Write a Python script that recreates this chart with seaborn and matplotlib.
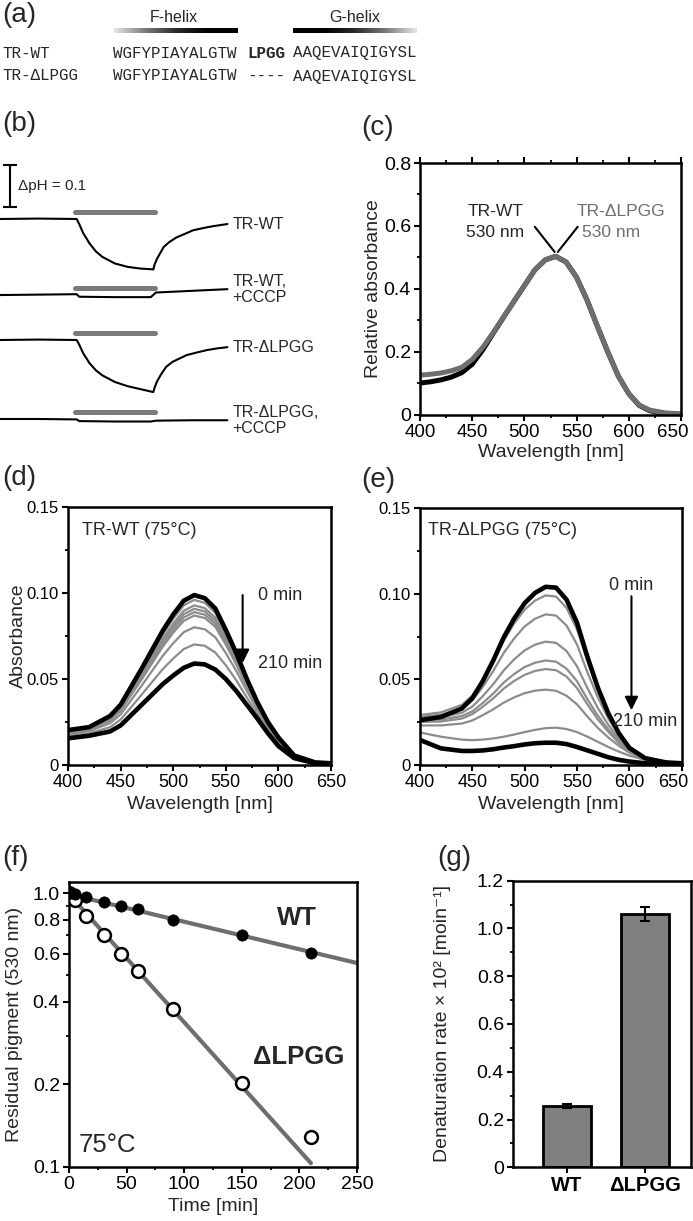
import numpy as np
import pandas as pd
import matplotlib
matplotlib.use("Agg")
import matplotlib.pyplot as plt
import matplotlib.transforms as mtrans
import seaborn as sns
from matplotlib.ticker import MultipleLocator, FixedLocator, NullFormatter
from matplotlib.colors import LinearSegmentedColormap

# ---------------- data ----------------
# (a) sequences
seq_names = ["TR-WT", "TR-ΔLPGG"]
seq_f = "WGFYPIAYALGTW"
seq_loop = ["LPGG", "----"]
seq_g = "AAQEVAIQIGYSL"

# (b) pH traces (time in s, ΔpH relative to start)
light_on_off = [59, 121]
wt_t = [0, 30, 60, 62, 65, 70, 75, 80, 90, 100, 110, 120, 121, 123, 126, 128, 132, 138, 145, 151, 160, 167, 178]
wt_ph = [0, 0.001, 0, -0.012, -0.033, -0.058, -0.077, -0.090, -0.106, -0.114, -0.118, -0.120, -0.108,
         -0.094, -0.078, -0.067, -0.056, -0.044, -0.035, -0.027, -0.021, -0.017, -0.012]
dl_t = [0, 30, 60, 62, 65, 70, 75, 80, 90, 100, 110, 120, 121, 123, 126, 130, 135, 146, 155, 162, 170, 178]
dl_ph = [0, 0.001, 0, -0.011, -0.031, -0.055, -0.072, -0.084, -0.100, -0.110, -0.117, -0.124, -0.113,
         -0.098, -0.082, -0.064, -0.052, -0.036, -0.029, -0.024, -0.020, -0.017]
cccp_t = [0, 30, 60, 62, 90, 118, 122, 150, 178]
wt_cccp_ph = [0, 0.001, 0.002, -0.004, -0.005, -0.005, 0.006, 0.010, 0.014]
dl_cccp_ph = [0, 0.0, -0.001, -0.005, -0.006, -0.006, -0.004, -0.003, -0.003]
trace_labels = ["TR-WT", "TR-WT,\n+CCCP", "TR-ΔLPGG", "TR-ΔLPGG,\n+CCCP"]

# (c) relative absorbance spectra
c_wl = [400, 410, 420, 430, 440, 450, 460, 470, 480, 490, 500, 510, 520, 530, 540, 550, 560, 570, 580,
        590, 600, 610, 620, 635, 650]
c_wt = [0.100, 0.104, 0.110, 0.119, 0.133, 0.160, 0.205, 0.258, 0.309, 0.360, 0.410, 0.460, 0.492, 0.503,
        0.485, 0.436, 0.364, 0.280, 0.198, 0.122, 0.066, 0.029, 0.012, 0.003, 0.001]
c_dl = [0.125, 0.128, 0.132, 0.139, 0.150, 0.175, 0.213, 0.260, 0.310, 0.360, 0.410, 0.460, 0.492, 0.503,
        0.485, 0.436, 0.364, 0.280, 0.198, 0.122, 0.066, 0.030, 0.014, 0.005, 0.002]

# (d)/(e) spectra during heating at 75 °C (0 min, intermediate, 210 min)
wl = [400, 420, 440, 450, 460, 470, 480, 490, 500, 510, 520, 530, 540, 550, 560, 570, 580, 590, 600,
      615, 635, 650]
d_first = [0.0203, 0.022, 0.0285, 0.035, 0.0455, 0.056, 0.067, 0.078, 0.0875, 0.0955, 0.0988, 0.097,
           0.091, 0.0785, 0.065, 0.050, 0.0365, 0.025, 0.016, 0.0055, 0.0015, 0.001]
d_last = [0.0155, 0.017, 0.0195, 0.023, 0.029, 0.035, 0.041, 0.047, 0.052, 0.0565, 0.059, 0.0585,
          0.0555, 0.050, 0.043, 0.035, 0.027, 0.0185, 0.011, 0.004, 0.001, 0.0]
d_mid = [
    [0.0200, 0.0217, 0.0279, 0.0342, 0.0443, 0.0545, 0.0652, 0.0758, 0.0850, 0.0928, 0.0960, 0.0943,
     0.0885, 0.0765, 0.0635, 0.0490, 0.0358, 0.0245, 0.0157, 0.0054, 0.0015, 0.0009],
    [0.0196, 0.0213, 0.0272, 0.0332, 0.0430, 0.0529, 0.0631, 0.0734, 0.0822, 0.0897, 0.0928, 0.0912,
     0.0857, 0.0742, 0.0617, 0.0478, 0.0351, 0.0240, 0.0153, 0.0053, 0.0014, 0.0009],
    [0.0193, 0.0210, 0.0267, 0.0326, 0.0422, 0.0518, 0.0618, 0.0718, 0.0804, 0.0877, 0.0908, 0.0893,
     0.0839, 0.0728, 0.0606, 0.0470, 0.0346, 0.0237, 0.0150, 0.0052, 0.0014, 0.0008],
    [0.0191, 0.0208, 0.0263, 0.0320, 0.0414, 0.0508, 0.0605, 0.0703, 0.0786, 0.0858, 0.0889, 0.0874,
     0.0821, 0.0714, 0.0595, 0.0463, 0.0341, 0.0234, 0.0148, 0.0051, 0.0014, 0.0008],
    [0.0189, 0.0205, 0.0258, 0.0314, 0.0406, 0.0497, 0.0592, 0.0687, 0.0769, 0.0838, 0.0869, 0.0855,
     0.0804, 0.0700, 0.0584, 0.0455, 0.0337, 0.0230, 0.0145, 0.0051, 0.0014, 0.0007],
    [0.0180, 0.0197, 0.0243, 0.0294, 0.0377, 0.0461, 0.0548, 0.0634, 0.0708, 0.0772, 0.0801, 0.0789,
     0.0743, 0.0651, 0.0547, 0.0430, 0.0320, 0.0219, 0.0137, 0.0048, 0.0013, 0.0005],
    [0.0168, 0.0184, 0.0220, 0.0264, 0.0336, 0.0409, 0.0483, 0.0557, 0.0619, 0.0674, 0.0701, 0.0693,
     0.0654, 0.0580, 0.0492, 0.0392, 0.0297, 0.0203, 0.0124, 0.0044, 0.0011, 0.0003],
]
e_first = [0.0262, 0.028, 0.033, 0.039, 0.049, 0.061, 0.0745, 0.0855, 0.0945, 0.1005, 0.104, 0.1035,
           0.0965, 0.083, 0.063, 0.045, 0.030, 0.0185, 0.010, 0.004, 0.0015, 0.001]
e_last = [0.0146, 0.0097, 0.0082, 0.0082, 0.0085, 0.0092, 0.0102, 0.011, 0.012, 0.0127, 0.013, 0.013,
          0.0122, 0.0105, 0.0085, 0.0065, 0.0045, 0.003, 0.002, 0.001, 0.0005, 0.0]
e_mid = [
    [0.0292, 0.0307, 0.0351, 0.0405, 0.0495, 0.0604, 0.0726, 0.0826, 0.0907, 0.0960, 0.0990, 0.0983,
     0.0917, 0.0791, 0.0605, 0.0438, 0.0298, 0.0187, 0.0106, 0.0045, 0.0017, 0.0011],
    [0.0282, 0.0293, 0.0330, 0.0377, 0.0456, 0.0549, 0.0654, 0.0739, 0.0809, 0.0854, 0.0879, 0.0872,
     0.0814, 0.0703, 0.0540, 0.0393, 0.0270, 0.0173, 0.0099, 0.0043, 0.0016, 0.0011],
    [0.0271, 0.0279, 0.0305, 0.0341, 0.0402, 0.0472, 0.0552, 0.0617, 0.0669, 0.0703, 0.0720, 0.0713,
     0.0665, 0.0576, 0.0448, 0.0331, 0.0233, 0.0152, 0.0092, 0.0042, 0.0016, 0.0010],
    [0.0261, 0.0265, 0.0286, 0.0313, 0.0362, 0.0417, 0.0481, 0.0531, 0.0572, 0.0597, 0.0610, 0.0603,
     0.0562, 0.0489, 0.0383, 0.0287, 0.0206, 0.0138, 0.0085, 0.0040, 0.0015, 0.0010],
    [0.0251, 0.0254, 0.0271, 0.0297, 0.0340, 0.0389, 0.0446, 0.0491, 0.0526, 0.0549, 0.0560, 0.0553,
     0.0516, 0.0449, 0.0353, 0.0265, 0.0193, 0.0129, 0.0081, 0.0038, 0.0014, 0.0010],
    [0.0231, 0.0231, 0.0242, 0.0260, 0.0291, 0.0325, 0.0364, 0.0395, 0.0419, 0.0434, 0.0440, 0.0433,
     0.0404, 0.0354, 0.0282, 0.0216, 0.0160, 0.0112, 0.0072, 0.0035, 0.0013, 0.0009],
    [0.0190, 0.0165, 0.0148, 0.0145, 0.0148, 0.0155, 0.0165, 0.0178, 0.0192, 0.0205, 0.0215, 0.0218,
     0.0210, 0.0192, 0.0165, 0.0135, 0.0105, 0.0078, 0.0055, 0.0030, 0.0012, 0.0005],
]

# (f) residual pigment
f_t_wt = [0, 2, 5, 15, 30, 45, 60, 90, 150, 210]
f_wt = [1.0, 1.0, 0.99, 0.967, 0.924, 0.899, 0.874, 0.799, 0.704, 0.603]
f_t_dl = [0, 5, 15, 30, 45, 60, 90, 150, 210]
f_dl = [1.0, 0.945, 0.821, 0.70, 0.598, 0.517, 0.377, 0.202, 0.128]
fit_t_wt = [0, 250]
fit_wt = [0.99, 0.555]
fit_t_dl = [0, 210]
fit_dl = [0.99, 0.103]

# (g) denaturation rates
g_cats = ["WT", "ΔLPGG"]
g_rate = [0.255, 1.06]
g_err = [0.008, 0.03]

# ---------------- style ----------------
sns.set_theme(style="ticks")
plt.rcParams['font.family'] = ['Liberation Sans', 'DejaVu Sans']
plt.rcParams.update({
    'axes.linewidth': 1.8,
    'xtick.major.width': 1.5, 'ytick.major.width': 1.5,
    'xtick.minor.width': 1.3, 'ytick.minor.width': 1.3,
    'xtick.major.size': 4.5, 'ytick.major.size': 4.5,
    'xtick.minor.size': 2.5, 'ytick.minor.size': 2.5,
    'xtick.labelsize': 13.5, 'ytick.labelsize': 14,
    'axes.labelsize': 14,
    'xtick.color': 'black', 'ytick.color': 'black',
    'axes.edgecolor': 'black',
    'xtick.direction': 'out', 'ytick.direction': 'out',
    'xtick.major.pad': 2.0, 'ytick.major.pad': 2.0,
})

W, H = 693, 1221
fig = plt.figure(figsize=(6.93, 12.21), dpi=100)
fig.patch.set_facecolor('white')

def fax(x0, y0, x1, y1):
    return fig.add_axes([x0 / W, 1 - y1 / H, (x1 - x0) / W, (y1 - y0) / H])

# overlay axes in pixel coordinates for panel labels & panel (a)
ov = fig.add_axes([0, 0, 1, 1])
ov.set_xlim(0, W)
ov.set_ylim(H, 0)
ov.axis('off')

GRAY = '#7a7a7a'

# ---- panel (a)
mono = ['Liberation Mono', 'DejaVu Sans Mono']
grad = np.linspace(0, 1, 256).reshape(1, -1)
cmap_f = LinearSegmentedColormap.from_list('f', ['#e6e6e6', '#7a7a7a', '#2a2a2a', '#000000', '#000000'])
ov.imshow(grad, extent=(114, 238, 33, 28.5), aspect='auto', cmap=cmap_f, zorder=1)
ov.imshow(grad[:, ::-1], extent=(293, 417, 33, 28.5), aspect='auto', cmap=cmap_f, zorder=1)
ov.set_xlim(0, W)
ov.set_ylim(H, 0)
ov.text(174, 18, "F-helix", ha='center', va='center', fontsize=11.5)
ov.text(355, 18, "G-helix", ha='center', va='center', fontsize=11.5)
for i, (nm, lp) in enumerate(zip(seq_names, seq_loop)):
    yy = 53 + i * 23
    ov.text(2, yy, nm, ha='left', va='center', fontsize=11.4, family=mono)
    ov.text(113, yy, seq_f, ha='left', va='center', fontsize=11.4, family=mono)
    ov.text(247, yy, lp, ha='left', va='center', fontsize=11.4, family=mono,
            fontweight='bold' if i == 0 else 'normal')
    ov.text(293, yy, seq_g, ha='left', va='center', fontsize=11.4, family=mono)

for lab, x, y in [("(a)", 2, 15), ("(b)", 2, 124), ("(c)", 361, 128), ("(d)", 2, 478),
                  ("(e)", 361, 480), ("(f)", 2, 858), ("(g)", 437, 858)]:
    ov.text(x, y, lab, ha='left', va='center', fontsize=20)

# ---- panel (b)
bx = fax(0, 140, 340, 440)
bx.set_xlim(0, 180 * 340 / 230)
bx.set_ylim(-0.526, 0.188)
bx.axis('off')
offsets = [0.0, -0.181, -0.288, -0.476]
traces = [(wt_t, wt_ph), (cccp_t, wt_cccp_ph), (dl_t, dl_ph), (cccp_t, dl_cccp_ph)]
for off, (tt, ph), lab in zip(offsets, traces, trace_labels):
    sns.lineplot(x=tt, y=np.array(ph) + off, ax=bx, color='black', lw=1.5, sort=False)
    bx.plot(light_on_off, [off + 0.016] * 2, color=GRAY, lw=3.6, solid_capstyle='round')
    bx.text(182, off + ph[-1], lab, ha='left', va='center', fontsize=11.5, linespacing=1.1)
bx.errorbar([7.8], [0.079], yerr=[0.05], fmt='none', ecolor='black', elinewidth=1.5, capsize=5, capthick=1.5)
bx.text(14, 0.079, "ΔpH = 0.1", ha='left', va='center', fontsize=11)

def style_spec(ax):
    ax.set_xlim(400, 650)
    ax.xaxis.set_major_locator(FixedLocator([400, 450, 500, 550, 600, 650]))
    ax.xaxis.set_minor_locator(FixedLocator([425, 475, 525, 575, 625]))
    ax.tick_params(which='both', top=False, right=False)

# ---- panel (c)
cx = fax(420, 163, 681, 414.5)
sns.lineplot(x=c_wl, y=c_wt, ax=cx, color='black', lw=3.6)
sns.lineplot(x=c_wl, y=c_dl, ax=cx, color='#6e6e6e', lw=3.6)
style_spec(cx)
cx.set_ylim(0, 0.8)
cx.yaxis.set_major_locator(FixedLocator([0, 0.2, 0.4, 0.6, 0.8]))
cx.set_yticklabels(["0", "0.2", "0.4", "0.6", "0.8"])
cx.yaxis.set_minor_locator(MultipleLocator(0.1))
cx.tick_params(which='both', top=True)
cx.set_xlabel("Wavelength [nm]")
cx.set_ylabel("Relative absorbance")
cx.plot([510, 529], [0.597, 0.517], color='black', lw=1.5)
cx.plot([551, 532], [0.597, 0.517], color='black', lw=1.5)
cx.text(472, 0.645, "TR-WT", ha='center', va='center', fontsize=12.5)
cx.text(472, 0.578, "530 nm", ha='center', va='center', fontsize=12.5)
cx.text(592, 0.645, "TR-ΔLPGG", ha='center', va='center', fontsize=12.5, color='#6e6e6e')
cx.text(583, 0.578, "530 nm", ha='center', va='center', fontsize=12.5, color='#6e6e6e')

# ---- panels (d), (e)
def spec_panel(ax, first, mids, last):
    for m in mids:
        sns.lineplot(x=wl, y=m, ax=ax, color='#8c8c8c', lw=1.6)
    sns.lineplot(x=wl, y=first, ax=ax, color='black', lw=3.3)
    sns.lineplot(x=wl, y=last, ax=ax, color='black', lw=3.3)
    style_spec(ax)
    ax.set_ylim(0, 0.15)
    ax.yaxis.set_major_locator(FixedLocator([0, 0.05, 0.10, 0.15]))
    ax.set_yticklabels(["0", "0.05", "0.10", "0.15"])
    ax.yaxis.set_minor_locator(FixedLocator([0.025, 0.075, 0.125]))
    ax.tick_params(axis='y', labelsize=12)
    ax.tick_params(axis='x', labelsize=13)
    ax.set_xlabel("Wavelength [nm]")

dx = fax(68, 507, 331, 765)
spec_panel(dx, d_first, d_mid, d_last)
dx.set_ylabel("Absorbance")
dx.text(413, 0.1366, "TR-WT (75°C)", ha='left', va='center', fontsize=13)
dx.annotate('', xy=(566, 0.0593), xytext=(566, 0.0988),
            arrowprops=dict(arrowstyle='-|>', color='black', lw=1.5, mutation_scale=20, shrinkA=0, shrinkB=0))
dx.text(581, 0.0988, "0 min", ha='left', va='center', fontsize=13)
dx.text(581, 0.0593, "210 min", ha='left', va='center', fontsize=13)

ex = fax(420, 508, 681.7, 765)
spec_panel(ex, e_first, e_mid, e_last)
ex.set_ylabel("")
ex.text(408, 0.137, "TR-ΔLPGG (75°C)", ha='left', va='center', fontsize=13)
ex.annotate('', xy=(602, 0.032), xytext=(602, 0.0985),
            arrowprops=dict(arrowstyle='-|>', color='black', lw=1.5, mutation_scale=20, shrinkA=0, shrinkB=0))
ex.text(602, 0.105, "0 min", ha='center', va='center', fontsize=13)
ex.text(584.5, 0.0253, "210 min", ha='left', va='center', fontsize=13)

# ---- panel (f)
fx = fax(69, 881.7, 357, 1166.7)
fx.set_yscale('log')
sns.lineplot(x=fit_t_wt, y=fit_wt, ax=fx, color='#6e6e6e', lw=3.0)
sns.lineplot(x=fit_t_dl, y=fit_dl, ax=fx, color='#6e6e6e', lw=3.0)
sns.scatterplot(x=f_t_dl, y=f_dl, ax=fx, marker='o', s=85, facecolor='white', edgecolor='black',
                linewidth=1.8, zorder=3)
sns.scatterplot(x=f_t_wt, y=f_wt, ax=fx, marker='o', s=66, color='black', edgecolor='black',
                linewidth=0.5, zorder=4)
fx.set_xlim(0, 250)
fx.set_ylim(0.1, 1.1)
fx.xaxis.set_major_locator(MultipleLocator(50))
fx.xaxis.set_minor_locator(MultipleLocator(25))
fx.yaxis.set_major_locator(FixedLocator([0.1, 0.2, 0.4, 0.6, 0.8, 1.0]))
fx.yaxis.set_minor_locator(FixedLocator([0.3, 0.5, 0.7, 0.9]))
fx.yaxis.set_minor_formatter(NullFormatter())
fx.set_yticklabels(["0.1", "0.2", "0.4", "0.6", "0.8", "1.0"])
fx.tick_params(which='both', top=False, right=False)
fx.tick_params(axis='x', labelsize=14)
fx.set_xlabel("Time [min]")
fx.set_ylabel("Residual pigment (530 nm)")
fx.text(198, 0.812, "WT", ha='center', va='center', fontsize=18.5, fontweight='bold')
fx.text(199, 0.252, "ΔLPGG", ha='center', va='center', fontsize=18.5, fontweight='bold')
fx.text(8, 0.12, "75°C", ha='left', va='center', fontsize=18.5)

# ---- panel (g)
gx = fax(513, 880.7, 690.7, 1167.3)
sns.barplot(x=g_cats, y=g_rate, ax=gx, color='#808080', saturation=1, edgecolor='black',
            linewidth=2, width=0.61, errorbar=None)
gx.errorbar([0, 1], g_rate, yerr=g_err, fmt='none', ecolor='black', elinewidth=1.5, capsize=3.5, capthick=1.5)
gx.set_xlim(-0.69, 1.58)
gx.set_ylim(0, 1.2)
gx.yaxis.set_major_locator(FixedLocator([0, 0.2, 0.4, 0.6, 0.8, 1.0, 1.2]))
gx.set_yticklabels(["0", "0.2", "0.4", "0.6", "0.8", "1.0", "1.2"])
gx.yaxis.set_minor_locator(MultipleLocator(0.1))
gx.tick_params(which='both', top=False, right=False)
for t in gx.get_xticklabels():
    t.set_fontweight('bold')
    t.set_fontsize(14.5)
gx.set_ylabel("Denaturation rate × 10² [moin⁻¹]")
gx.set_xlabel("")

for ax in [cx, dx, ex, fx, gx]:
    for s in ax.spines.values():
        s.set_visible(True)
        s.set_linewidth(1.8)
        s.set_color('black')
    ax.set_facecolor('white')

# label positions
for ax, xc in [(cx, -0.18), (dx, -0.19), (fx, -0.1875), (gx, -0.394)]:
    ax.yaxis.set_label_coords(xc, 0.5)
    ax.yaxis.label.set_va('center')
for ax, yc in [(cx, -0.153), (dx, -0.155), (ex, -0.155), (fx, -0.14)]:
    ax.xaxis.set_label_coords(0.5, yc)
    ax.xaxis.label.set_va('center')

# keep the right-most "650" labels inside the figure
for ax in [cx, ex]:
    last = ax.xaxis.get_major_ticks()[-1]
    last.label1.set_transform(last.label1.get_transform() +
                              mtrans.ScaledTranslation(-6 / 72, 0, fig.dpi_scale_trans))

fig.savefig("out.png", dpi=100, facecolor='white')
